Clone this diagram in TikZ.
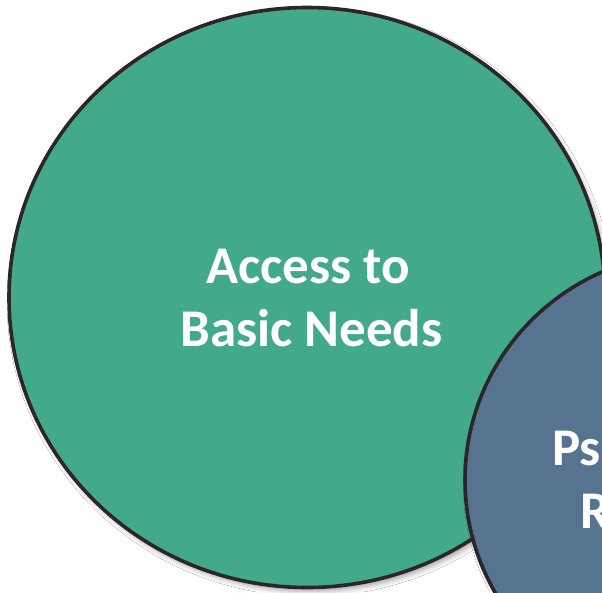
\documentclass[tikz,border=0pt]{standalone}
\usepackage{fontspec}
\setmainfont{Carlito}
\usetikzlibrary{shapes.geometric,shadows.blur}

\definecolor{needsgreen}{HTML}{42A98A}
\definecolor{psyblue}{HTML}{56738F}
\definecolor{rimdark}{HTML}{2B2728}

\tikzset{
  venn/.style={ellipse, draw=rimdark, line width=3.6pt, inner sep=0pt,
    blur shadow={shadow xshift=3pt, shadow yshift=-4pt,
      shadow blur radius=5pt, shadow opacity=35}},
  vlabel/.style={text=white, font=\fontsize{53}{63}\selectfont\bfseries, inner sep=0pt}
}

\begin{document}
\begin{tikzpicture}[x=1pt, y=-1pt]
  \useasboundingbox (0,0) rectangle (602,592);
  \fill[white] (0,0) rectangle (602,592);
  \clip (0,0) rectangle (602,592);

  % left set
  \node[venn, fill=needsgreen, minimum width=596pt, minimum height=580pt]
    (needs) at (307,297.5) {};
  \node[vlabel, anchor=base] (needsA) at (308,283) {Access to};
  \node[vlabel, anchor=base] (needsB) at (311.5,346) {Basic Needs};

  % right set, overlapping
  \node[venn, fill=psyblue, minimum width=461pt, minimum height=455pt]
    (psy) at (695.5,480) {};
  \node[vlabel, anchor=base west] (psyA) at (552,465) {Ps};
  \node[vlabel, anchor=base west] (psyB) at (580,528) {R};
\end{tikzpicture}
\end{document}
